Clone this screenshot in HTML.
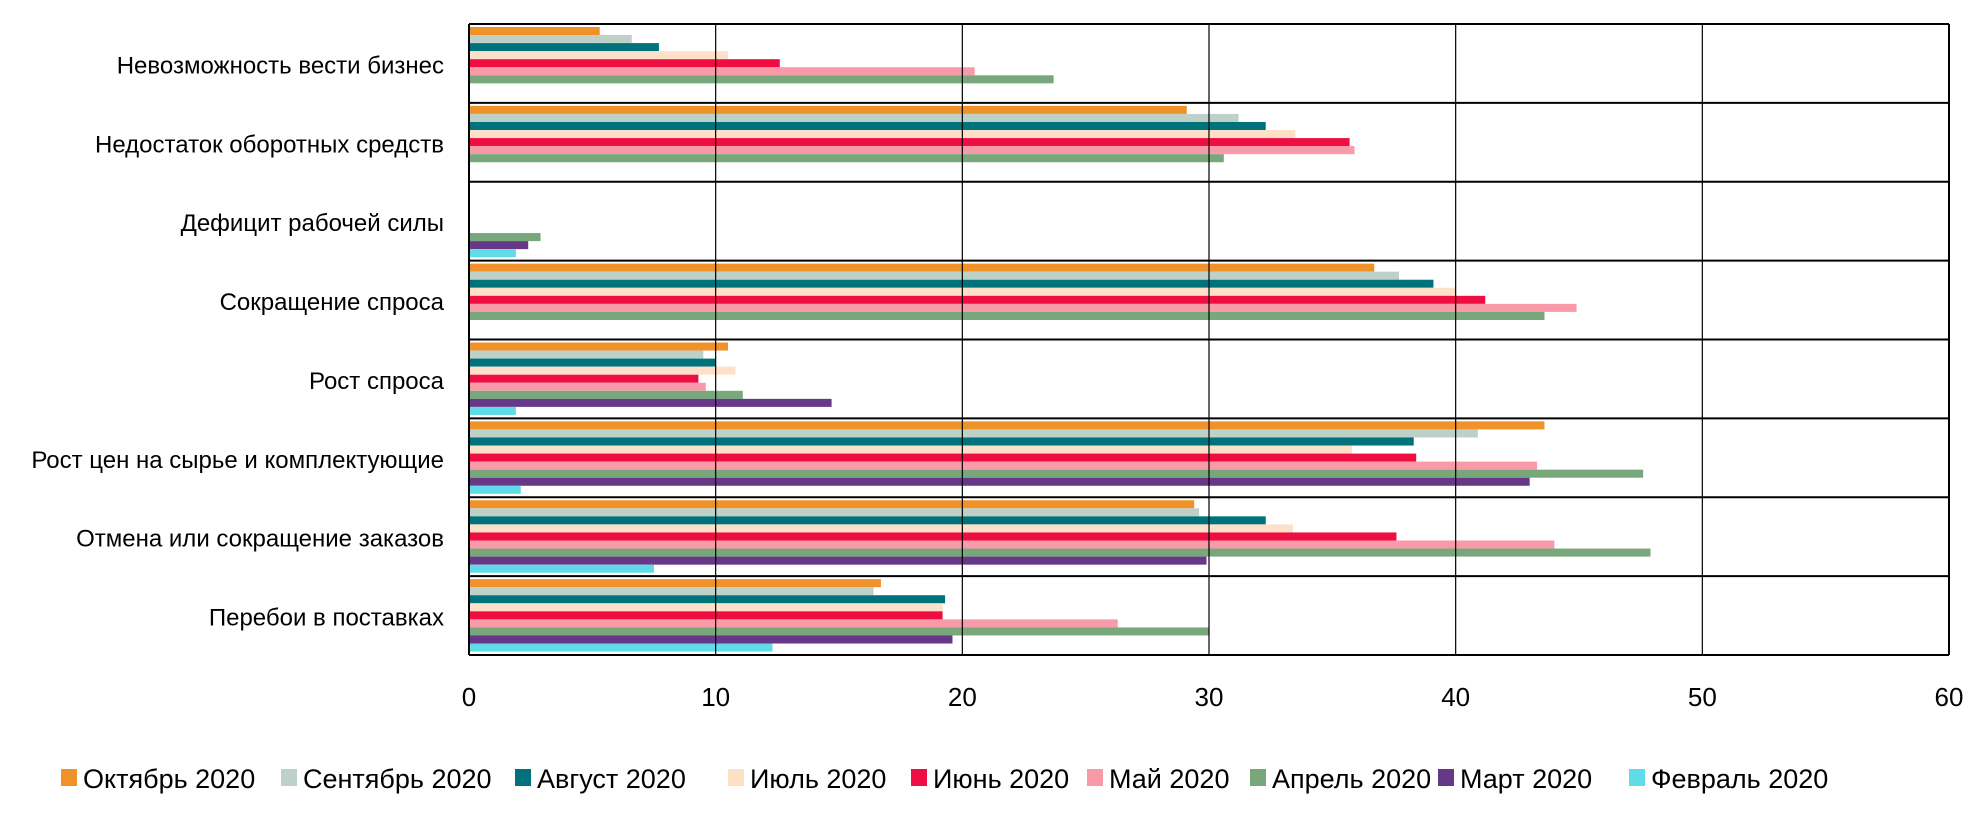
<!DOCTYPE html>
<html><head><meta charset="utf-8"><style>
html,body{margin:0;padding:0;background:#fff;}
svg{display:block;font-family:"Liberation Sans",sans-serif;}
</style></head><body>
<svg id="chart" width="1978" height="828" viewBox="0 0 1978 828"></svg>
<script>
const categories = ["Невозможность вести бизнес","Недостаток оборотных средств","Дефицит рабочей силы","Сокращение спроса","Рост спроса","Рост цен на сырье и комплектующие","Отмена или сокращение заказов","Перебои в поставках"];
const seriesNames = ["Октябрь 2020","Сентябрь 2020","Август 2020","Июль 2020","Июнь 2020","Май 2020","Апрель 2020","Март 2020","Февраль 2020"];
const seriesColors = ["#F0922A","#BDD1C8","#00727C","#FCE1C8","#EE0E42","#F99AA8","#77A77A","#673888","#5FDCE8"];
const octValues = [5.3,29.1,null,36.7,10.5,43.6,29.4,16.7];
const sepValues = [6.6,31.2,null,37.7,9.5,40.9,29.6,16.4];
const augValues = [7.7,32.3,null,39.1,10.0,38.3,32.3,19.3];
const julValues = [10.5,33.5,null,40.0,10.8,35.8,33.4,19.2];
const junValues = [12.6,35.7,null,41.2,9.3,38.4,37.6,19.2];
const mayValues = [20.5,35.9,null,44.9,9.6,43.3,44.0,26.3];
const aprValues = [23.7,30.6,2.9,43.6,11.1,47.6,47.9,30.0];
const marValues = [null,null,2.4,null,14.7,43.0,29.9,19.6];
const febValues = [null,null,1.9,null,1.9,2.1,7.5,12.3];
const tickValues = [0,10,20,30,40,50,60];
const seriesValues = [octValues,sepValues,augValues,julValues,junValues,mayValues,aprValues,marValues,febValues];

const NS="http://www.w3.org/2000/svg";
const svg=document.getElementById('chart');
const L=469,R=1949,T=24,B=655,xMax=60;
const x=v=>L+(v/xMax)*(R-L);
const band=(B-T)/categories.length;
const y=i=>T+i*band;
const slotH=8.05, slotOff=3;
function mk(tag,attrs){const e=document.createElementNS(NS,tag);for(const k in attrs)e.setAttribute(k,attrs[k]);svg.appendChild(e);return e;}

seriesValues.forEach((vals,s)=>{
  vals.forEach((v,i)=>{
    if(v==null)return;
    const r=mk('rect',{x:x(0),y:y(i)+slotOff+s*slotH,width:x(v)-x(0),height:slotH,fill:seriesColors[s]});
    
    
  });
});
tickValues.forEach(t=>{
  const g=mk('line',{x1:x(t),x2:x(t),y1:T,y2:B,stroke:'#000','stroke-width':(t===0||t===xMax)?2:1.2});
  
  
  const tl=mk('text',{x:x(t),y:706,'font-size':26,'text-anchor':'middle',fill:'#000'});
  tl.textContent=t;
  
  
});
for(let i=0;i<=categories.length;i++){
  const h=mk('line',{x1:L,x2:R,y1:y(i),y2:y(i),stroke:'#000','stroke-width':2});
  
  
}
categories.forEach((c,i)=>{
  const t=mk('text',{x:444,y:y(i)+band/2+10,'font-size':24,'text-anchor':'end',fill:'#000'});
  t.textContent=c;
  
  
});
const legendX=[61,281,515,728,911,1087,1250,1438,1629];
seriesNames.forEach((n,s)=>{
  const sq=mk('rect',{x:legendX[s],y:769,width:16,height:17,fill:seriesColors[s]});
  
  
  const t=mk('text',{x:legendX[s]+22,y:788,'font-size':27,fill:'#000'});
  t.textContent=n;
  
  
});
</script>
</body></html>
